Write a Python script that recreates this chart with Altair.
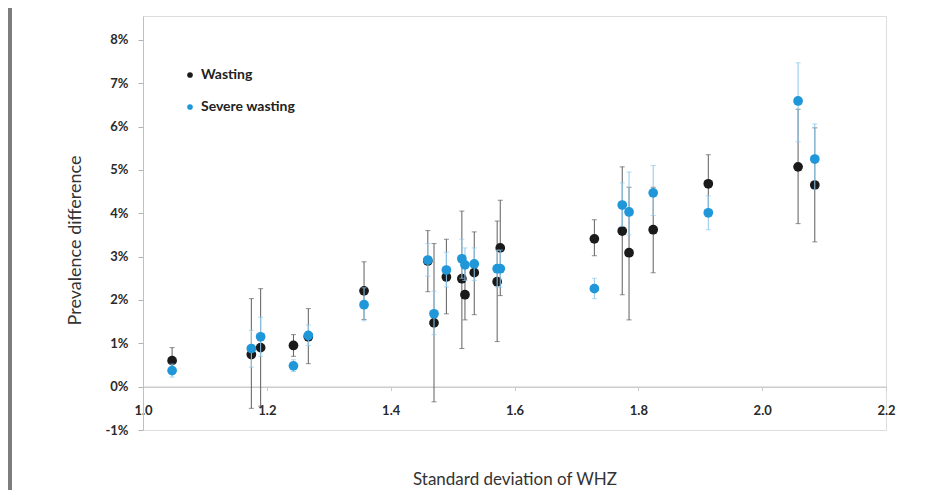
import altair as alt
import pandas as pd

# ---- data ----
series_names = ["Wasting", "Severe wasting"]
sd = [1.047, 1.175, 1.19, 1.243, 1.267, 1.357, 1.46, 1.47, 1.49, 1.515, 1.52,
      1.535, 1.572, 1.577, 1.729, 1.774, 1.785, 1.824, 1.913, 2.058, 2.085]
wasting = [0.60, 0.74, 0.90, 0.95, 1.15, 2.21, 2.90, 1.47, 2.53, 2.49, 2.12,
           2.63, 2.42, 3.20, 3.41, 3.59, 3.09, 3.62, 4.68, 5.07, 4.65]
wasting_lo = [0.30, -0.50, -0.45, 0.70, 0.53, 1.55, 2.19, -0.35, 1.68, 0.88, 1.54,
              1.66, 1.04, 2.10, 3.02, 2.12, 1.54, 2.63, 4.00, 3.76, 3.34]
wasting_hi = [0.90, 2.03, 2.26, 1.20, 1.80, 2.88, 3.60, 3.30, 3.40, 4.05, 2.80,
              3.57, 3.82, 4.30, 3.85, 5.07, 4.60, 4.60, 5.35, 6.40, 5.97]
severe = [0.37, 0.88, 1.15, 0.48, 1.18, 1.89, 2.92, 1.68, 2.69, 2.95, 2.81,
          2.83, 2.72, 2.72, 2.26, 4.19, 4.03, 4.47, 4.01, 6.59, 5.25]
severe_lo = [0.22, 0.45, 0.70, 0.35, 0.95, 1.52, 2.55, 1.20, 2.30, 2.50, 2.45,
             2.45, 2.30, 2.30, 2.03, 3.70, 3.50, 3.95, 3.62, 5.65, 4.55]
severe_hi = [0.52, 1.30, 1.60, 0.62, 1.42, 2.28, 3.30, 2.20, 3.10, 3.40, 3.20,
             3.20, 3.15, 3.15, 2.50, 4.70, 4.95, 5.10, 4.40, 7.47, 6.06]
y_ticks = [-1, 0, 1, 2, 3, 4, 5, 6, 7, 8]
x_ticks = [1.0, 1.2, 1.4, 1.6, 1.8, 2.0, 2.2]

rows = []
for i, x in enumerate(sd):
    rows.append({"series": series_names[0], "sd": x, "v": wasting[i],
                 "lo": wasting_lo[i], "hi": wasting_hi[i]})
for i, x in enumerate(sd):
    rows.append({"series": series_names[1], "sd": x, "v": severe[i],
                 "lo": severe_lo[i], "hi": severe_hi[i]})
df = pd.DataFrame(rows)

FONT = "Lato"
W, H = 743, 414
PX_PER_UNIT = H / 9.55

x_scale = alt.Scale(domain=[1.0, 2.2], nice=False, zero=False)
y_scale = alt.Scale(domain=[-1, 8.55], nice=False, zero=False)

x_axis = alt.Axis(values=x_ticks, format=".1f", labelFlush=False,
                  offset=-PX_PER_UNIT, grid=False,
                  domainColor="#cccccc", domainWidth=1.5,
                  tickColor="#cccccc", tickSize=4,
                  labelFont=FONT, labelFontSize=13, labelFontWeight="bold",
                  labelColor="#2a2a2a", labelPadding=14,
                  title="Standard deviation of WHZ", titleFont=FONT,
                  titleFontSize=17, titleFontWeight="normal", titleColor="#333333",
                  titleY=93, titleBaseline="middle")
y_axis = alt.Axis(values=y_ticks, labelExpr="datum.value + '%'", grid=False,
                  domainColor="#c0c0c0", tickColor="#b0b0b0", tickSize=5,
                  labelFont=FONT, labelFontSize=13, labelFontWeight="bold",
                  labelColor="#2a2a2a", labelPadding=10,
                  title="Prevalence difference", titleFont=FONT, titleFontSize=18,
                  titleFontWeight="normal", titleColor="#333333",
                  titleX=-68, titleY=224, titleBaseline="middle")

color = alt.Color("series:N",
                  scale=alt.Scale(domain=series_names, range=["#1a1a1a", "#1f97d8"]),
                  legend=alt.Legend(title=None, orient="none", legendX=40, legendY=52,
                                    symbolType="circle", symbolSize=32,
                                    symbolStrokeWidth=0, labelFont=FONT,
                                    labelFontSize=14, labelFontWeight="bold",
                                    labelColor="#222222", labelOffset=4,
                                    rowPadding=18))

base = alt.Chart(df)


def layers_for(name, bar_color):
    sub = base.transform_filter(alt.datum.series == name)
    rule = sub.mark_rule(color=bar_color, strokeWidth=1).encode(
        x=alt.X("sd:Q", scale=x_scale, axis=x_axis),
        y=alt.Y("lo:Q", scale=y_scale, axis=y_axis),
        y2="hi:Q")
    cap_lo = sub.mark_tick(color=bar_color, orient="horizontal", size=5, thickness=1).encode(
        x=alt.X("sd:Q", scale=x_scale), y=alt.Y("lo:Q", scale=y_scale))
    cap_hi = sub.mark_tick(color=bar_color, orient="horizontal", size=5, thickness=1).encode(
        x=alt.X("sd:Q", scale=x_scale), y=alt.Y("hi:Q", scale=y_scale))
    pts = sub.mark_circle(size=95, opacity=1).encode(
        x=alt.X("sd:Q", scale=x_scale), y=alt.Y("v:Q", scale=y_scale), color=color)
    return [rule, cap_lo, cap_hi, pts]


side_bar = alt.Chart(pd.DataFrame({"k": [0]})).mark_rect(color="#7d7d7d").encode(
    x=alt.value(-135), x2=alt.value(-131), y=alt.value(-16), y2=alt.value(483))

chart = alt.layer(
    side_bar,
    *layers_for("Wasting", "#5e5e5e"),
    *layers_for("Severe wasting", "#8ec9ec"),
).properties(
    width=W, height=H,
    autosize=alt.AutoSizeParams(type="none"),
    padding={"left": 135, "top": 8, "right": 40, "bottom": 60},
).configure_view(stroke=None).configure(background="white")

chart.save("out.html", embed_options={"renderer": "svg", "actions": False})
